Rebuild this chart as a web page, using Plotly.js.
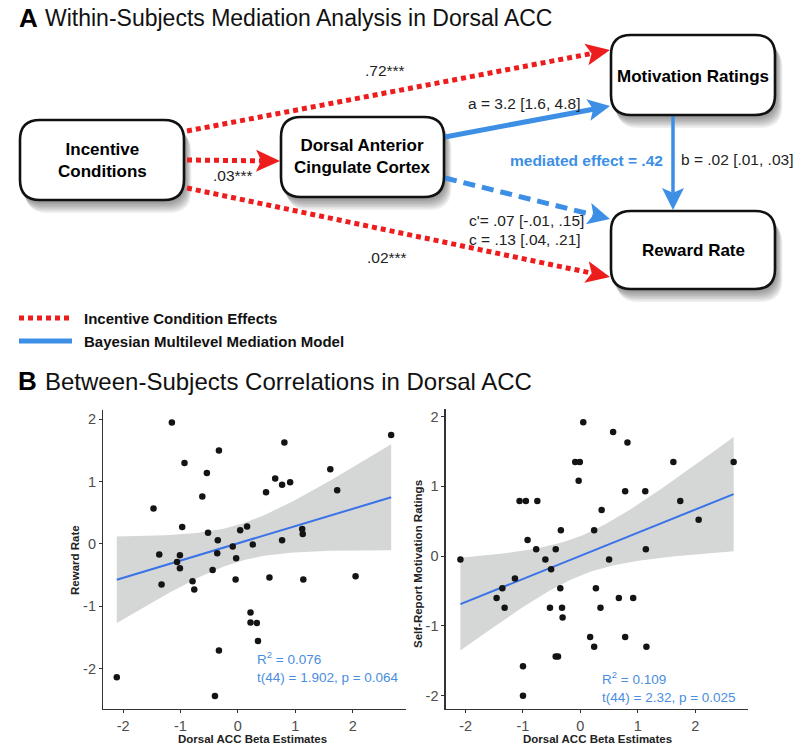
<!DOCTYPE html>
<html>
<head>
<meta charset="utf-8">
<script src="https://cdn.plot.ly/plotly-3.0.1.min.js"></script>
<style>html,body{margin:0;padding:0;background:#fff;}#chart{width:812px;height:747px;}</style>
</head>
<body>
<div id="chart"></div>
<script>
// ---------- Data ----------
const leftX = [2.67,0.81,-0.33,-0.93,1.61,-0.54,0.65,0.91,0.77,0.49,1.73,-0.62,-1.47,-0.97,0.16,0.04,-0.52,1.12,1.13,-0.35,0.77,0.26,-0.09,-1.37,-1.01,-0.36,-0.03,-1.06,-1.01,-0.44,-0.04,0.55,1.14,2.05,-1.33,-0.79,-0.76,0.22,0.22,0.33,0.35,-0.33,-2.11,-0.40,-1.15];
const leftY = [1.75,1.63,1.50,1.30,1.20,1.14,1.05,0.99,0.95,0.83,0.86,0.76,0.57,0.27,0.28,0.22,0.18,0.24,0.16,0.06,0.06,-0.01,-0.04,-0.17,-0.18,-0.15,-0.23,-0.29,-0.39,-0.42,-0.57,-0.54,-0.57,-0.52,-0.65,-0.60,-0.73,-1.10,-1.26,-1.27,-1.56,-1.71,-2.14,-2.44,1.95];
const rightX = [0.57,0.82,-0.09,-0.01,1.62,2.67,-0.03,0.78,1.13,-1.06,-0.95,-0.75,1.74,0.37,2.06,-0.34,0.24,-0.92,-0.77,-0.43,1.14,-2.09,-0.61,0.50,-0.51,-1.14,-1.36,-0.35,0.27,-1.46,0.67,0.92,-1.32,-0.53,-0.32,0.35,-0.31,0.17,0.78,0.24,1.15,-0.43,-0.39,-1.00,-1.00,0.05];
const rightY = [1.78,1.63,1.35,1.35,1.35,1.35,1.08,0.93,0.93,0.79,0.79,0.79,0.79,0.66,0.52,0.37,0.37,0.23,0.10,0.10,0.10,-0.05,-0.05,-0.05,-0.19,-0.32,-0.46,-0.46,-0.46,-0.60,-0.60,-0.60,-0.74,-0.74,-0.74,-0.74,-0.88,-1.16,-1.16,-1.30,-1.30,-1.44,-1.44,-1.58,-2.00,1.92];
const tickVals = [-2,-1,0,1,2];
const tickText = ['-2','-1','0','1','2'];
const leftStats = ['R<sup>2</sup> = 0.076', 't(44) = 1.902, p = 0.064'];
const rightStats = ['R<sup>2</sup> = 0.109', 't(44) = 2.32, p = 0.025'];
const xTitle = 'Dorsal ACC Beta Estimates';
const leftYTitle = 'Reward Rate';
const rightYTitle = 'Self-Report Motivation Ratings';
const titleA = 'Within-Subjects Mediation Analysis in Dorsal ACC';
const titleB = 'Between-Subjects Correlations in Dorsal ACC';
const boxLabels = ['Incentive<br>Conditions','Dorsal Anterior<br>Cingulate Cortex','Motivation Ratings','Reward Rate'];
const pathLabels = ['.72***','.03***','.02***','a = 3.2 [1.6, 4.8]','b = .02 [.01, .03]',"c'= .07 [-.01, .15]",'c = .13 [.04, .21]'];
const mediatedLabel = 'mediated effect = .42';
const legendLabels = ['Incentive Condition Effects','Bayesian Multilevel Mediation Model'];

// ---------- helpers ----------
const W = 812, H = 747;
const X = px => px / W;
const Y = py => 1 - py / H;
const RED = '#ee1d1d', BLUE = '#3d8fe6', FITBLUE = '#3a72e8';
const FONT = 'Arial, "Liberation Sans", sans-serif';

function fit(xs, ys) {
  const n = xs.length;
  const mx = xs.reduce((a,b)=>a+b,0)/n, my = ys.reduce((a,b)=>a+b,0)/n;
  let sxx=0, sxy=0;
  for (let i=0;i<n;i++){ sxx+=(xs[i]-mx)**2; sxy+=(xs[i]-mx)*(ys[i]-my); }
  const b = sxy/sxx, a = my - b*mx;
  let sse=0; for (let i=0;i<n;i++){ sse += (ys[i]-(a+b*xs[i]))**2; }
  const s = Math.sqrt(sse/(n-2));
  const tq = 2.015;
  const lo = Math.min(...xs), hi = Math.max(...xs);
  const gx=[], gy=[], up=[], dn=[];
  for (let k=0;k<80;k++){
    const x = lo + (hi-lo)*k/79;
    const yh = a + b*x;
    const se = s*Math.sqrt(1/n + (x-mx)**2/sxx);
    gx.push(x); gy.push(yh); up.push(yh+tq*se); dn.push(yh-tq*se);
  }
  return {gx, gy, up, dn};
}

function scatterTraces(xs, ys, xa, ya) {
  const f = fit(xs, ys);
  return [
    {x: f.gx.concat(f.gx.slice().reverse()), y: f.up.concat(f.dn.slice().reverse()),
     type:'scatter', mode:'lines', fill:'toself', fillcolor:'#d4d7d6', line:{width:0},
     hoverinfo:'skip', xaxis:xa, yaxis:ya, showlegend:false},
    {x: f.gx, y: f.gy, type:'scatter', mode:'lines', line:{color:FITBLUE, width:2},
     hoverinfo:'skip', xaxis:xa, yaxis:ya, showlegend:false},
    {x: xs, y: ys, type:'scatter', mode:'markers', marker:{color:'#141414', size:6.5},
     xaxis:xa, yaxis:ya, showlegend:false}
  ];
}

const P = (x,y) => X(x).toFixed(5)+','+Y(y).toFixed(5);
function rrPath(x0,y0,x1,y1,r){
  return 'M'+P(x0+r,y0)+' L'+P(x1-r,y0)+' Q'+P(x1,y0)+' '+P(x1,y0+r)+
    ' L'+P(x1,y1-r)+' Q'+P(x1,y1)+' '+P(x1-r,y1)+' L'+P(x0+r,y1)+
    ' Q'+P(x0,y1)+' '+P(x0,y1-r)+' L'+P(x0,y0+r)+' Q'+P(x0,y0)+' '+P(x0+r,y0)+' Z';
}

const shapes = [];
const annotations = [];

// boxes with soft shadow
const boxes = [
  [20,120,184,200],[281,117,444,197],[611,35,775,115],[611,211,775,289]
];
const boxCenters = [[102,160],[362,157],[693,76],[693,251]];
boxes.forEach(b=>{
  for (let i=8;i>=1;i--){
    shapes.push({type:'path', xref:'paper', yref:'paper', path: rrPath(b[0]+i*0.8-1, b[1]+i*1.5-1, b[2]+i*0.8+1, b[3]+i*1.5+1, 22),
      fillcolor:'rgba(0,0,0,0.06)', line:{width:0}});
  }
});

// arrows
function arrow(x0,y0,tx,ty,color,width,dash,len,hw){
  const dx=tx-x0, dy=ty-y0, L=Math.hypot(dx,dy), ux=dx/L, uy=dy/L, nx=-uy, ny=ux;
  const bx=tx-len*ux, by=ty-len*uy;
  const kx=tx-0.78*len*ux, ky=ty-0.78*len*uy;
  shapes.push({type:'line', xref:'paper', yref:'paper', x0:X(x0), y0:Y(y0), x1:X(kx), y1:Y(ky),
    line:{color:color, width:width, dash:dash}});
  shapes.push({type:'path', xref:'paper', yref:'paper',
    path:'M'+P(tx,ty)+' L'+P(bx+hw*nx,by+hw*ny)+' L'+P(kx,ky)+' L'+P(bx-hw*nx,by-hw*ny)+' Z',
    fillcolor:color, line:{width:0}});
}
arrow(187,131,610,50,RED,5,'5px,4px',24,11);
arrow(187,160,280,161,RED,5,'5px,4px',24,11);
arrow(187,188,610,277,RED,5,'5px,4px',24,11);
arrow(445,137,610,106,BLUE,5,'solid',22,11);
arrow(445,178,610,219,BLUE,5,'12px,7px',22,11);
arrow(673,116,673,210,BLUE,3.5,'solid',22,11);

// boxes on top of shadows
boxes.forEach(b=>{
  shapes.push({type:'path', xref:'paper', yref:'paper', path: rrPath(b[0],b[1],b[2],b[3],20),
    fillcolor:'#ffffff', line:{color:'#111', width:2.6}});
});

// legend lines
shapes.push({type:'line', xref:'paper', yref:'paper', x0:X(19), y0:Y(318), x1:X(72), y1:Y(318), line:{color:RED,width:5,dash:'5px,4px'}});
shapes.push({type:'line', xref:'paper', yref:'paper', x0:X(19), y0:Y(341), x1:X(72), y1:Y(341), line:{color:BLUE,width:5}});

function txt(text,x,y,size,opts){
  opts = opts||{};
  annotations.push({text:text, xref:'paper', yref:'paper', x:X(x), y:Y(y), showarrow:false,
    xanchor:opts.xa||'center', yanchor:'middle', align:opts.align||'center',
    textangle: opts.angle||0,
    font:{family:FONT, size:size, color:opts.color||'#1a1a1a', weight:opts.bold?'bold':'normal'}});
}
// titles
txt('A',17,18,26,{xa:'left',bold:true,color:'#000'});
txt(titleA,43,18,23,{xa:'left',color:'#111'});
txt('B',16,381,26,{xa:'left',bold:true,color:'#000'});
txt(titleB,43,381,24,{xa:'left',color:'#111'});
// box labels
boxLabels.forEach((t,i)=>txt(t,boxCenters[i][0],boxCenters[i][1],17,{bold:true,color:'#000'}));
// path labels
txt(pathLabels[0],385,70,15.5,{color:'#222'});
txt(pathLabels[1],233,175,15.5,{color:'#222'});
txt(pathLabels[2],387,257,15.5,{color:'#222'});
txt(pathLabels[3],466,104,15.5,{xa:'left',color:'#222'});
txt(pathLabels[4],679,159,15.5,{xa:'left',color:'#222'});
txt(pathLabels[5],467,220,15.5,{xa:'left',color:'#222'});
txt(pathLabels[6],467,239,15.5,{xa:'left',color:'#222'});
txt(mediatedLabel,508,160,15.5,{xa:'left',bold:true,color:BLUE});
// legend labels
txt(legendLabels[0],82,318,15,{xa:'left',bold:true,color:'#111'});
txt(legendLabels[1],82,341,15,{xa:'left',bold:true,color:'#111'});
// stats
txt(leftStats[0],255,658,13.5,{xa:'left',color:'#4a8ee0'});
txt(leftStats[1],255,677,13.5,{xa:'left',color:'#4a8ee0'});
txt(rightStats[0],600,678,13.5,{xa:'left',color:'#4a8ee0'});
txt(rightStats[1],600,697,13.5,{xa:'left',color:'#4a8ee0'});
// axis titles
txt(xTitle,253,739,11.5,{bold:true,color:'#222'});
txt(xTitle,597,739,11.5,{bold:true,color:'#222'});
txt(leftYTitle,75,560,11.5,{bold:true,color:'#222',angle:-90});
txt(rightYTitle,418,564,11.5,{bold:true,color:'#222',angle:-90});

const axBase = {showline:true, linecolor:'#333', linewidth:1.1, ticks:'outside', ticklen:3, tickwidth:1,
  tickcolor:'#333', showgrid:false, zeroline:false, tickvals:tickVals, ticktext:tickText,
  tickfont:{family:FONT, size:14.5, color:'#4d4d4d'}};

const layout = {
  width:W, height:H, autosize:false, margin:{l:0,r:0,t:0,b:0},
  paper_bgcolor:'#fff', plot_bgcolor:'rgba(0,0,0,0)', showlegend:false,
  xaxis: Object.assign({}, axBase, {domain:[X(103), X(405.5)], range:[-2.35,2.92], anchor:'y'}),
  yaxis: Object.assign({}, axBase, {domain:[Y(709), Y(410)], range:[-2.65,2.15], anchor:'x'}),
  xaxis2: Object.assign({}, axBase, {domain:[X(445.5), X(748)], range:[-2.35,2.92], anchor:'y2'}),
  yaxis2: Object.assign({}, axBase, {domain:[Y(709.3), Y(408.5)], range:[-2.196,2.116], anchor:'x2'}),
  shapes: shapes,
  annotations: annotations
};

const data = scatterTraces(leftX, leftY, 'x', 'y').concat(scatterTraces(rightX, rightY, 'x2', 'y2'));
Plotly.newPlot('chart', data, layout, {displayModeBar:false, staticPlot:true});
</script>
</body>
</html>
